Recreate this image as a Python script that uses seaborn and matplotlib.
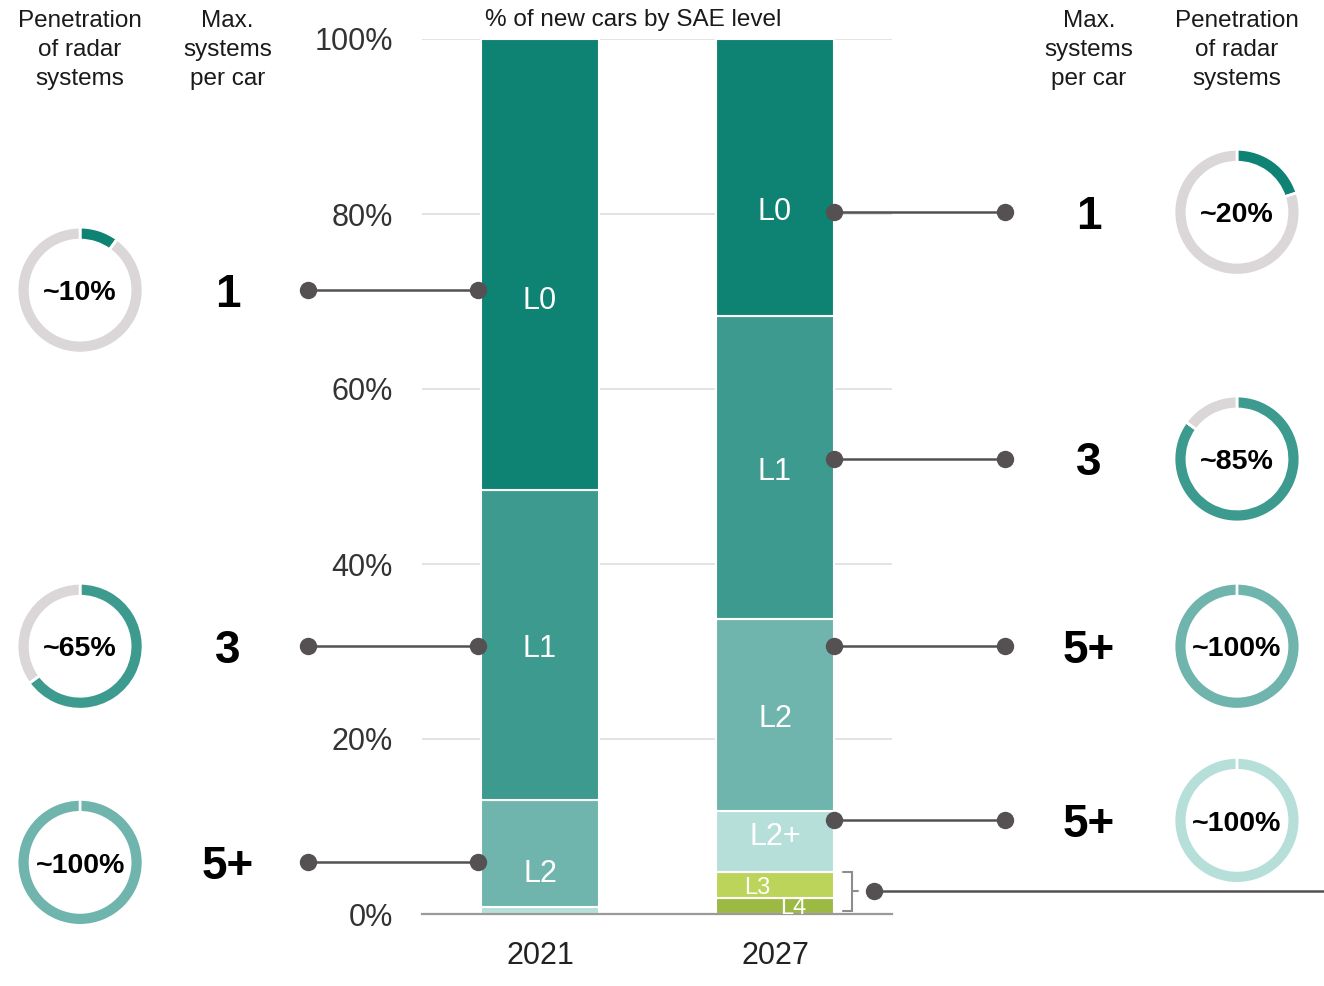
import matplotlib
matplotlib.use("Agg")
import matplotlib.pyplot as plt
from matplotlib.transforms import offset_copy
import numpy as np
import pandas as pd
import seaborn as sns

# ---------------------------------------------------------------- data
years = ["2021", "2027"]
levels = ["L4", "L3", "L2+", "L2", "L1", "L0"]          # stacked bottom -> top
share_2021 = [0.0, 0.0, 0.8, 12.2, 35.5, 51.5]          # % of new cars
share_2027 = [1.8, 3.0, 7.0, 21.9, 34.6, 31.7]

left_levels = ["L0", "L1", "L2"]                        # 2021 side
left_systems = ["1", "3", "5+"]
left_penetration = [10, 65, 100]

right_levels = ["L0", "L1", "L2", "L2+"]                # 2027 side
right_systems = ["1", "3", "5+", "5+"]
right_penetration = [20, 85, 100, 100]

y_ticks = [0, 20, 40, 60, 80, 100]

# ---------------------------------------------------------------- style
level_colors = {"L0": "#0e8374", "L1": "#3c9b8e", "L2": "#6fb5ad",
                "L2+": "#b7dfda", "L3": "#bdd45a", "L4": "#9cba43"}
ring_grey = "#dbd6d7"
connector = "#555152"
bracket_grey = "#8e8c8c"
dark = "#1a1a1a"

sns.set_style("white")
plt.rcParams["font.family"] = ["Liberation Sans", "DejaVu Sans"]

W_PX, H_PX = 1324, 986
fig = plt.figure(figsize=(W_PX / 100, H_PX / 100), dpi=100)
ax = fig.add_axes([422 / W_PX, 72 / H_PX, 470 / W_PX, 875 / H_PX])

# ---------------------------------------------------------------- stacked bars
df = pd.DataFrame({
    "year": np.repeat(years, len(levels)),
    "level": levels * len(years),
    "share": share_2021 + share_2027,
})
df["bottom"] = df.groupby("year")["share"].cumsum() - df["share"]

for lvl in levels:
    sub = df[df["level"] == lvl].set_index("year").loc[years].reset_index()
    sns.barplot(data=sub, x="year", y="share", order=years, ax=ax,
                bottom=sub["bottom"].to_numpy(), color=level_colors[lvl],
                saturation=1, width=0.5, edgecolor="white", linewidth=1.5,
                errorbar=None)

ax.set_xlim(-0.502, 1.498)
ax.set_ylim(0, 100)
ax.set_yticks(y_ticks)
ax.set_yticklabels([f"{v}%" for v in y_ticks])
ax.set_xlabel("")
ax.set_ylabel("")
ax.grid(axis="y", color="#dedede", linewidth=1.2)
ax.set_axisbelow(True)
for side in ("top", "left", "right"):
    ax.spines[side].set_visible(False)
ax.spines["bottom"].set_color("#9a9a9a")
ax.spines["bottom"].set_linewidth(1.6)
ax.tick_params(axis="y", length=0, pad=21, labelsize=22, labelcolor="#333333")
ax.tick_params(axis="x", length=0, pad=19.5, labelsize=22, labelcolor="#222222")


def ctext(target, x, y, s, size, weight="normal", color=dark, **kw):
    """Text whose cap height is centred on y."""
    tr = offset_copy(target.transData, fig=fig, y=-0.358 * size, units="points")
    return target.text(x, y, s, transform=tr, ha="center", va="baseline",
                       fontsize=size, fontweight=weight, color=color,
                       clip_on=False, **kw)


# segment labels inside the bars
seg_labels = [  # (bar index, level, y, dx, size)
    (0, "L0", 70.4, 0.0, 22), (0, "L1", 30.6, 0.0, 22), (0, "L2", 4.9, 0.0, 22),
    (1, "L0", 80.6, 0.0, 22), (1, "L1", 50.9, 0.0, 22), (1, "L2", 22.6, 0.0, 22),
    (1, "L2+", 9.1, 0.0, 22), (1, "L3", 3.2, -0.077, 17), (1, "L4", 1.0, 0.077, 17),
]
for xi, lvl, yy, dx, fs in seg_labels:
    ctext(ax, xi + dx, yy, lvl, fs, color="white")

# ---------------------------------------------------------------- side panels
x_donut_l, x_num_l, line_l = -1.957, -1.330, (-0.987, -0.264)
x_num_r, x_donut_r, line_r = 2.336, 2.966, (1.251, 1.979)
rows_left = [71.3, 30.6, 5.9]
rows_right = [80.2, 52.0, 30.6, 10.7]


def donut(xd, yd, pct, color, r_px=63):
    cx, cy = ax.transData.transform((xd, yd))
    dax = fig.add_axes([(cx - r_px) / W_PX, (cy - r_px) / H_PX,
                        2 * r_px / W_PX, 2 * r_px / H_PX])
    dax.pie([pct, 100 - pct], colors=[color, ring_grey], startangle=90,
            counterclock=False,
            wedgeprops=dict(width=13 / 63, edgecolor="white", linewidth=2,
                            clip_on=False))
    dax.set_xlim(-1.0, 1.0)
    dax.set_ylim(-1.0, 1.0)
    dax.set_aspect("equal")
    dax.axis("off")
    ctext(dax, 0, 0, f"~{pct}%", 20.5, weight="bold", color="black")


def row(yy, x0, x1, x_num, x_donut, systems, pct, lvl):
    ax.plot([x0, x1], [yy, yy], color=connector, lw=1.8, marker="o", ms=11.5,
            clip_on=False, zorder=5)
    ctext(ax, x_num, yy, systems, 33, weight="bold", color="black")
    donut(x_donut, yy, pct, level_colors[lvl])


for yy, s, p, lvl in zip(rows_left, left_systems, left_penetration, left_levels):
    row(yy, line_l[0], line_l[1], x_num_l, x_donut_l, s, p, lvl)
for yy, s, p, lvl in zip(rows_right, right_systems, right_penetration, right_levels):
    row(yy, line_r[0], line_r[1], x_num_r, x_donut_r, s, p, lvl)

# bracket grouping L3 + L4 in 2027
top_l3 = share_2027[0] + share_2027[1]
b_bot, b_mid = 0.35, (top_l3 + 0.35) / 2
ax.plot([1.289, 1.328, 1.328, 1.289], [top_l3, top_l3, b_bot, b_bot],
        color=bracket_grey, lw=1.5, clip_on=False, solid_joinstyle="miter")
ax.plot([1.328, 1.353], [b_mid, b_mid], color=bracket_grey, lw=1.5, clip_on=False)
ax.plot([1.421, 3.45], [b_mid, b_mid], color=connector, lw=1.8, clip_on=False)
ax.plot([1.421], [b_mid], color=connector, marker="o", ms=11.5, clip_on=False)

# ---------------------------------------------------------------- headers
hdr = dict(ha="center", va="center", fontsize=17.5, color=dark, linespacing=1.42,
           multialignment="center")
ax.text(x_donut_l, 98.75, "Penetration\nof radar\nsystems", **hdr)
ax.text(x_num_l, 98.75, "Max.\nsystems\nper car", **hdr)
ax.text(x_num_r, 98.75, "Max.\nsystems\nper car", **hdr)
ax.text(x_donut_r, 98.75, "Penetration\nof radar\nsystems", **hdr)
ax.text(0.396, 102.2, "% of new cars by SAE level", **hdr)

fig.savefig("out.png", dpi=100)
